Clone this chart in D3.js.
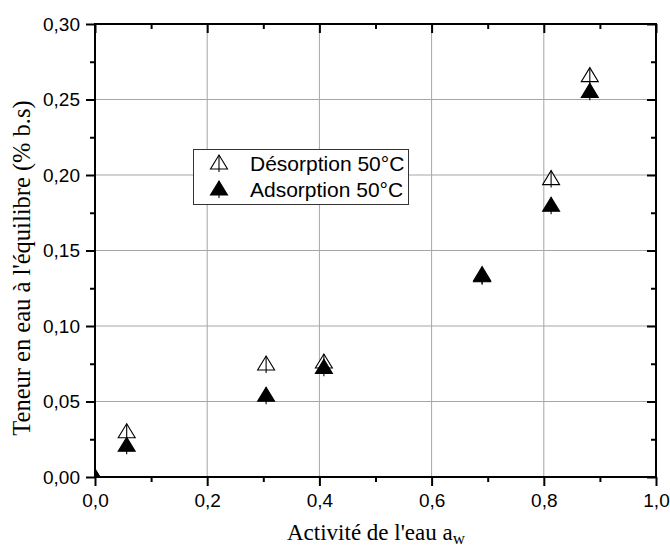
<!DOCTYPE html>
<html>
<head>
<meta charset="utf-8">
<script src="https://cdn.jsdelivr.net/npm/d3@7"></script>
<style>
  html, body { margin: 0; padding: 0; background: #fff; }
  svg { display: block; }
  .tick text { font-family: "Liberation Sans", Arial, sans-serif; font-size: 19px; fill: #000; }
</style>
</head>
<body>
<svg id="chart" width="670" height="549"></svg>
<script>
// Water activity (x) and equilibrium moisture content (y) at 50 °C
const aw         = [0, 0.0565, 0.305, 0.408, 0.690, 0.813, 0.882];
const desorption = [0, 0.030, 0.0748, 0.0762, 0.134, 0.1976, 0.2658];
const adsorption = [0, 0.021, 0.0541, 0.0726, 0.1333, 0.180, 0.2554];

const xMajorTicks = [0, 0.2, 0.4, 0.6, 0.8, 1.0];
const xMinorTicks = [0.1, 0.3, 0.5, 0.7, 0.9];
const yMajorTicks = [0, 0.05, 0.10, 0.15, 0.20, 0.25, 0.30];
const yMinorTicks = [0.025, 0.075, 0.125, 0.175, 0.225, 0.275];

const seriesNames = ["Désorption 50°C", "Adsorption 50°C"];
const xTitle = "Activité de l'eau a";
const xTitleSub = "w";
const yTitle = "Teneur en eau à l'équilibre (% b.s)";

const svg = d3.select("#chart");
const L = 95, R = 656, T = 24, B = 477;

const x = d3.scaleLinear().domain([0, 1]).range([L, R]);
const y = d3.scaleLinear().domain([0, 0.30]).range([B, T]);

const locale = d3.formatLocale({ decimal: ",", thousands: " ", grouping: [3], currency: ["", "€"] });
const fx = locale.format(".1f");
const fy = locale.format(".2f");

// grid lines at major ticks
const grid = svg.append("g").attr("stroke", "#a6a6a6").attr("stroke-width", 1);
grid.selectAll("line.gx").data(xMajorTicks.filter(d => d > 0 && d < 1)).join("line")
  .attr("x1", d => x(d)).attr("x2", d => x(d)).attr("y1", T).attr("y2", B);
grid.selectAll("line.gy").data(yMajorTicks.filter(d => d > 0 && d < 0.3)).join("line")
  .attr("x1", L).attr("x2", R).attr("y1", d => y(d)).attr("y2", d => y(d));

// axes
function styleAxis(g) {
  g.select(".domain").remove();
  g.selectAll(".tick line").attr("stroke", "#000").attr("stroke-width", 2);
}
svg.append("g").attr("transform", `translate(0,${B})`)
  .call(d3.axisBottom(x).tickValues(xMajorTicks).tickSize(9).tickPadding(8).tickFormat(fx)).call(styleAxis);
svg.append("g").attr("transform", `translate(0,${B})`)
  .call(d3.axisBottom(x).tickValues(xMinorTicks).tickSize(5).tickFormat("")).call(styleAxis);
svg.append("g").attr("transform", `translate(${L},0)`)
  .call(d3.axisLeft(y).tickValues(yMajorTicks).tickSize(9).tickPadding(6).tickFormat(fy)).call(styleAxis);
svg.append("g").attr("transform", `translate(${L},0)`)
  .call(d3.axisLeft(y).tickValues(yMinorTicks).tickSize(5).tickFormat("")).call(styleAxis);
svg.append("g").attr("transform", `translate(0,${T})`)
  .call(d3.axisTop(x).tickValues(xMajorTicks).tickSize(-9).tickFormat("")).call(styleAxis);
svg.append("g").attr("transform", `translate(0,${T})`)
  .call(d3.axisTop(x).tickValues(xMinorTicks).tickSize(-5).tickFormat("")).call(styleAxis);
svg.append("g").attr("transform", `translate(${R},0)`)
  .call(d3.axisRight(y).tickValues(yMajorTicks).tickSize(-9).tickFormat("")).call(styleAxis);
svg.append("g").attr("transform", `translate(${R},0)`)
  .call(d3.axisRight(y).tickValues(yMinorTicks).tickSize(-5).tickFormat("")).call(styleAxis);

// plot clip
svg.append("clipPath").attr("id", "plotclip").append("rect")
  .attr("x", L).attr("y", T).attr("width", R - L).attr("height", B - T);

// triangle marker with a central stem
const tri = "M0,-8 L8.5,6 L-8.5,6 Z";
const stem = "M0,-8 L0,9";
function marker(g, filled) {
  g.append("path").attr("d", tri)
    .attr("fill", filled ? "#000" : "#fff")
    .attr("stroke", "#000").attr("stroke-width", 1.1).attr("stroke-linejoin", "miter");
  g.append("path").attr("d", stem).attr("stroke", "#000").attr("stroke-width", 1.1);
}

const pts = svg.append("g").attr("clip-path", "url(#plotclip)");
aw.forEach((a, i) => {
  pts.append("g").attr("transform", `translate(${x(a)},${y(desorption[i])})`).call(g => marker(g, false));
});
aw.forEach((a, i) => {
  pts.append("g").attr("transform", `translate(${x(a)},${y(adsorption[i])})`).call(g => marker(g, true));
});

// frame
svg.append("rect").attr("x", L).attr("y", T).attr("width", R - L).attr("height", B - T)
  .attr("fill", "none").attr("stroke", "#000").attr("stroke-width", 2);

// legend
const lg = svg.append("g");
lg.append("rect").attr("x", 193.5).attr("y", 149.5).attr("width", 215).attr("height", 55)
  .attr("fill", "#fff").attr("stroke", "#333").attr("stroke-width", 1);
seriesNames.forEach((name, i) => {
  const cy = 163 + i * 26;
  lg.append("g").attr("transform", `translate(219,${cy})`).call(g => marker(g, i === 1));
  lg.append("text").attr("x", 250).attr("y", cy + 7.5)
    .attr("font-family", "Liberation Sans, Arial, sans-serif").attr("font-size", 21)
    .text(name);
});

// axis titles
const xt = svg.append("text").attr("x", 287).attr("y", 540)
  .attr("font-family", "Liberation Serif, 'Times New Roman', serif").attr("font-size", 23)
  .text(xTitle);
xt.append("tspan").attr("dy", 4).attr("font-size", 17).text(xTitleSub);

svg.append("text")
  .attr("transform", "translate(30,268) rotate(-90)")
  .attr("text-anchor", "middle")
  .attr("font-family", "Liberation Serif, 'Times New Roman', serif").attr("font-size", 24.5)
  .text(yTitle);
</script>
</body>
</html>
